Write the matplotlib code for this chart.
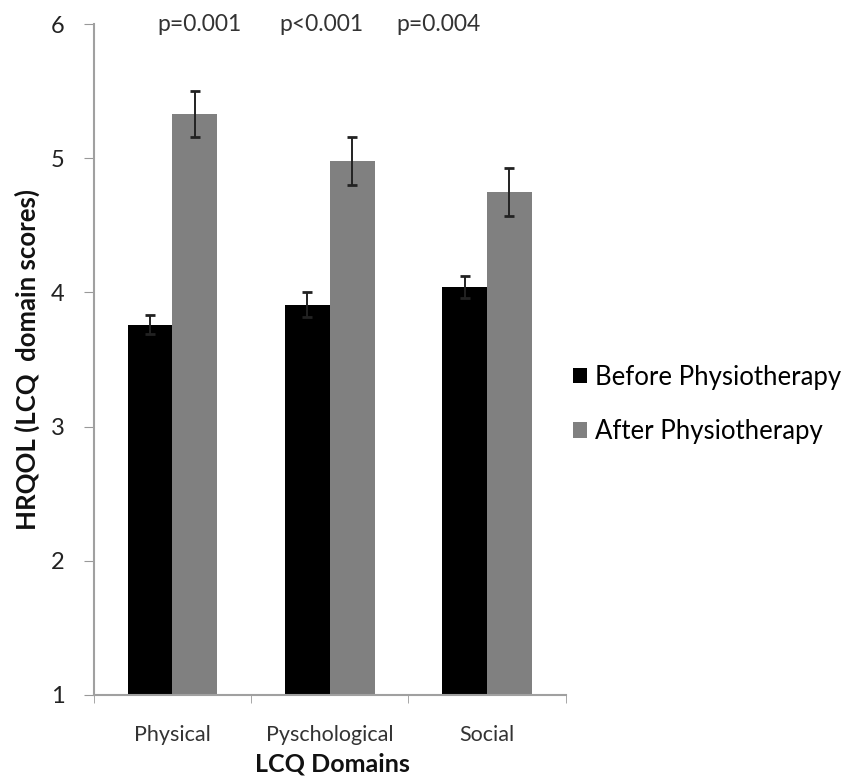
import matplotlib.pyplot as plt
import numpy as np

# data
domains = ["Physical", "Pyschological", "Social"]
before = [3.76, 3.91, 4.04]
before_err = [0.07, 0.09, 0.08]
after = [5.33, 4.98, 4.75]
after_err = [0.17, 0.18, 0.18]
p_labels = ["p=0.001", "p<0.001", "p=0.004"]
p_xpos = [0.17, 0.95, 1.69]

plt.rcParams["font.family"] = ["Lato", "DejaVu Sans"]

fig = plt.figure(figsize=(8.52, 7.79), dpi=100)
ax = fig.add_axes([0.110, 0.108, 0.554, 0.861])

x = np.arange(len(domains))
w = 0.285
ax.bar(x - w / 2, before, w, color="black", label="Before Physiotherapy")
ax.bar(x + w / 2, after, w, color="#808080", label="After Physiotherapy")
ax.errorbar(x - w / 2, before, yerr=before_err, fmt="none", ecolor="#222222",
            elinewidth=1.4, capsize=3.8, capthick=2)
ax.errorbar(x + w / 2, after, yerr=after_err, fmt="none", ecolor="#222222",
            elinewidth=1.4, capsize=3.8, capthick=2)

for px, lab in zip(p_xpos, p_labels):
    ax.text(px, 6.0, lab, ha="center", va="center", fontsize=16.5, color="#333333")

ax.set_xlim(-0.5, 2.5)
ax.set_ylim(1, 6)
ax.set_yticks([1, 2, 3, 4, 5, 6])
ax.tick_params(axis="y", labelsize=17, length=7, color="#999999", pad=14,
               labelcolor="#222222")
ax.set_xticks(x)
ax.set_xticklabels(domains, fontsize=15.5, color="#333333")
ax.tick_params(axis="x", which="major", length=0, pad=22)
ax.set_xticks([-0.5, 0.5, 1.5, 2.5], minor=True)
ax.tick_params(axis="x", which="minor", length=6, color="#999999")

for s in ["top", "right"]:
    ax.spines[s].set_visible(False)
for s in ["left", "bottom"]:
    ax.spines[s].set_color("#a0a0a0")
    ax.spines[s].set_linewidth(1.5)

fig.text(27 / 852, 0.538, "HRQOL (LCQ  domain scores)", rotation=90,
         ha="center", va="center", fontsize=18.5, fontweight="bold", color="#111111")
fig.text(0.390, 1 - 764 / 779, "LCQ Domains", ha="center", va="center",
         fontsize=18, fontweight="bold", color="#111111")

fig.legend(loc="center left", bbox_to_anchor=(0.6725, 0.481), frameon=False,
           fontsize=18.5, handlelength=0.55, handleheight=0.55, handletextpad=0.3,
           labelspacing=1.15, borderpad=0, borderaxespad=0)

fig.savefig("out.png", dpi=100)
